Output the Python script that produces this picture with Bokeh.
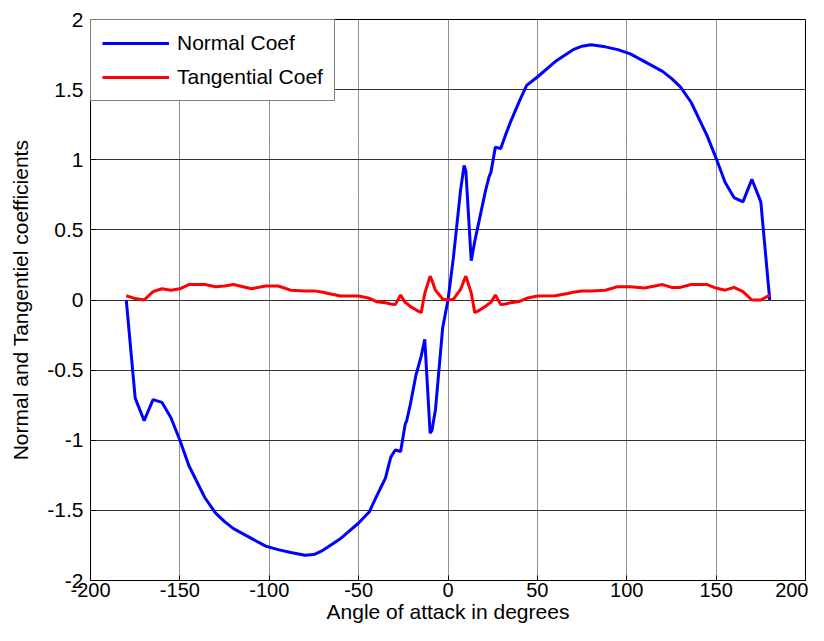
from bokeh.plotting import figure
from bokeh.models import FixedTicker, CustomJSTickFormatter, Legend, LegendItem, Range1d
from bokeh.embed import file_html
from bokeh.resources import INLINE

angle = [-180, -175, -170, -165, -160, -155, -150, -145, -136, -130, -125, -120, -110, -102,
         -95, -88, -80, -75, -70, -67, -60, -50, -44, -40, -35, -32, -29.5, -26.5, -24, -23,
         -21, -18, -15, -13, -10, -9, -7, -3,
         0, 3, 7, 9, 10, 13, 15, 18, 21, 23, 24, 26.5, 29.5, 32, 35, 40, 44, 50, 60, 67, 70,
         75, 80, 88, 95, 102, 110, 120, 125, 130, 136, 145, 150, 155, 160, 165, 170, 175, 180]

normal_coef = [0.0, -0.70, -0.86, -0.71, -0.73, -0.84, -1.00, -1.18, -1.41, -1.52, -1.58, -1.63,
               -1.70, -1.755, -1.78, -1.80, -1.82, -1.815, -1.785, -1.76, -1.70, -1.59, -1.51,
               -1.40, -1.27, -1.12, -1.07, -1.08, -0.89, -0.855, -0.74, -0.54, -0.40, -0.28,
               -0.95, -0.93, -0.78, -0.20,
               0.0, 0.30, 0.78, 0.96, 0.92, 0.28, 0.42, 0.60, 0.78, 0.88, 0.91, 1.09, 1.08,
               1.17, 1.27, 1.42, 1.53, 1.59, 1.70, 1.76, 1.785, 1.81, 1.82, 1.805, 1.785,
               1.755, 1.70, 1.63, 1.58, 1.52, 1.41, 1.17, 1.01, 0.84, 0.73, 0.70, 0.86, 0.70, 0.0]

tangential_coef = [0.03, 0.01, 0.0, 0.06, 0.08, 0.07, 0.08, 0.11, 0.11, 0.095, 0.10, 0.11,
                   0.08, 0.10, 0.10, 0.07, 0.065, 0.065, 0.055, 0.047, 0.028, 0.028, 0.012,
                   -0.012, -0.02, -0.028, -0.033, 0.035, -0.017, -0.025, -0.047, -0.07, -0.09,
                   0.047, 0.17, 0.14, 0.07, 0.007,
                   0.0, 0.005, 0.075, 0.14, 0.17, 0.05, -0.09, -0.07, -0.045, -0.025, -0.017,
                   0.035, -0.033, -0.028, -0.02, -0.01, 0.012, 0.028, 0.03, 0.047, 0.055, 0.064,
                   0.064, 0.07, 0.095, 0.095, 0.085, 0.11, 0.09, 0.09, 0.11, 0.11, 0.085, 0.07,
                   0.09, 0.06, 0.0, 0.0, 0.035]

x_ticks = [-200, -150, -100, -50, 0, 50, 100, 150, 200]
y_ticks = [-2, -1.5, -1, -0.5, 0, 0.5, 1, 1.5, 2]

FONT = "Liberation Sans"

p = figure(width=808, height=625, output_backend="svg", toolbar_location=None,
           x_range=Range1d(-200, 200), y_range=Range1d(-2, 2),
           min_border_left=90, min_border_right=3, min_border_top=19, min_border_bottom=40)

p.outline_line_color = "black"
p.outline_line_width = 1
p.background_fill_color = "white"
p.border_fill_color = "white"

fmt = CustomJSTickFormatter(code="return tick.toString();")
p.xaxis.ticker = FixedTicker(ticks=x_ticks)
p.yaxis.ticker = FixedTicker(ticks=y_ticks)
p.xaxis.formatter = fmt
p.yaxis.formatter = fmt

for ax in (p.xaxis, p.yaxis):
    ax.major_tick_in = 5
    ax.major_tick_out = 0
    ax.minor_tick_in = 0
    ax.minor_tick_out = 0
    ax.axis_line_color = "black"
    ax.major_tick_line_color = "black"
    ax.major_label_text_font = FONT
    ax.major_label_text_color = "black"
    ax.axis_label_text_font = FONT
    ax.axis_label_text_font_size = "21px"
    ax.axis_label_text_font_style = "normal"
    ax.axis_label_text_color = "black"

p.xaxis.major_label_text_font_size = "20px"
p.yaxis.major_label_text_font_size = "21px"
p.xaxis.major_label_standoff = 2
p.xaxis.axis_label_standoff = 0
p.yaxis.major_label_standoff = 7
p.yaxis.axis_label_standoff = 12
p.xaxis.axis_label = "Angle of attack in degrees"
p.yaxis.axis_label = "Normal and Tangentiel coefficients"

p.xgrid.grid_line_color = "#222222"
p.xgrid.grid_line_dash = "1 1"
p.xgrid.grid_line_width = 1
p.ygrid.grid_line_color = "#333333"
p.ygrid.grid_line_width = 1

r1 = p.line(angle, normal_coef, line_color="#0000FF", line_width=3)
r2 = p.line(angle, tangential_coef, line_color="#FF0000", line_width=3)

legend = Legend(items=[LegendItem(label="Normal Coef", renderers=[r1]),
                       LegendItem(label="Tangential Coef", renderers=[r2])],
                location="top_left")
legend.margin = 0
legend.padding = 11
legend.spacing = 10
legend.glyph_width = 67
legend.glyph_height = 20
legend.label_height = 20
legend.label_standoff = 8
legend.label_text_font = FONT
legend.label_text_font_size = "21px"
legend.label_text_color = "black"
legend.border_line_color = "black"
legend.border_line_width = 1
legend.background_fill_color = "white"
legend.background_fill_alpha = 1.0
p.add_layout(legend)

open("out.html", "w").write(file_html(p, INLINE))
